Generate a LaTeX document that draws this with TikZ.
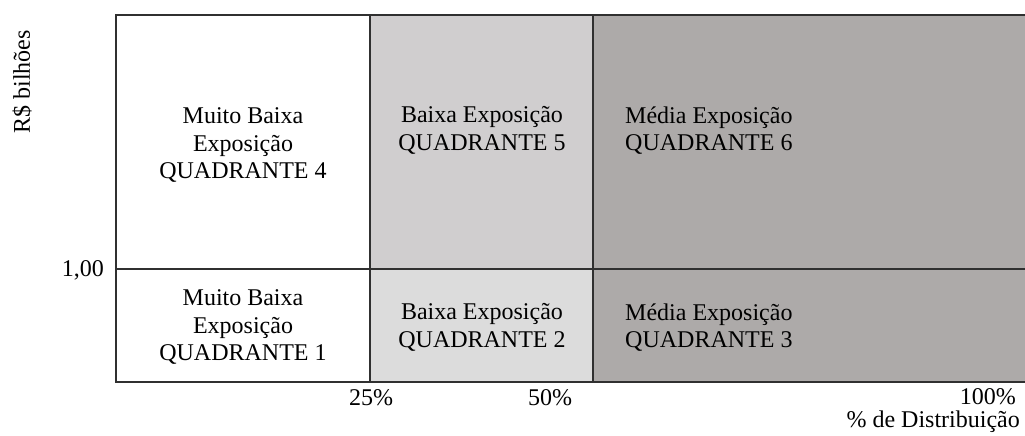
\documentclass[tikz,border=0pt]{standalone}
\usepackage{fontspec}
\setmainfont{Liberation Serif}
\definecolor{midtop}{HTML}{D0CECF}
\definecolor{midbot}{HTML}{DCDCDC}
\definecolor{darkq}{HTML}{ADAAA9}
\definecolor{edge}{HTML}{303030}
\begin{document}
\begin{tikzpicture}[x=1pt,y=-1pt,
  lbl/.style={inner sep=0pt,font=\fontsize{24}{27.5}\selectfont,text=black},
  grid/.style={draw=edge,line width=1.6pt}]
\useasboundingbox (0,0) rectangle (1025,436);
% fills
\fill[white] (116,15) rectangle (370,382);
\fill[midtop] (370,15) rectangle (593,269);
\fill[midbot] (370,269) rectangle (593,382);
\fill[darkq] (593,15) rectangle (1025,382);
% corner coordinates
\coordinate (tl) at (116,15);
\coordinate (tr) at (1025,15);
\coordinate (ml) at (116,269);
\coordinate (mr) at (1025,269);
\coordinate (bl) at (116,382);
\coordinate (br) at (1025,382);
\coordinate (v1t) at (370,15);
\coordinate (v1b) at (370,382);
\coordinate (v2t) at (593,15);
\coordinate (v2b) at (593,382);
\draw[grid] (tr) -- (tl) -- (bl) -- (br);
\draw[grid] (ml) -- (mr);
\draw[grid] (v1t) -- (v1b);
\draw[grid] (v2t) -- (v2b);
% quadrant texts
\node[lbl,align=center] (q4) at (243,145) {Muito Baixa\\Exposição\\QUADRANTE 4};
\node[lbl,align=center] (q5) at (482,130.5) {Baixa Exposição\\QUADRANTE 5};
\node[lbl,align=left,anchor=west] (q6) at (625,130.5) {Média Exposição\\QUADRANTE 6};
\node[lbl,align=center] (q1) at (243,327) {Muito Baixa\\Exposição\\QUADRANTE 1};
\node[lbl,align=center] (q2) at (482,327.5) {Baixa Exposição\\QUADRANTE 2};
\node[lbl,align=left,anchor=west] (q3) at (625,327.5) {Média Exposição\\QUADRANTE 3};
% axis labels
\node[lbl,rotate=90] (ylab) at (22,82) {R\$ bilhões};
\node[lbl,anchor=east] (y1) at (104,270) {1,00};
\node[lbl] (x25) at (371,398) {25\%};
\node[lbl] (x50) at (550,398) {50\%};
\node[lbl,anchor=east] (x100) at (1016,397) {100\%};
\node[lbl,anchor=east] (xlab) at (1020,422) {\% de Distribuição};
\end{tikzpicture}
\end{document}
